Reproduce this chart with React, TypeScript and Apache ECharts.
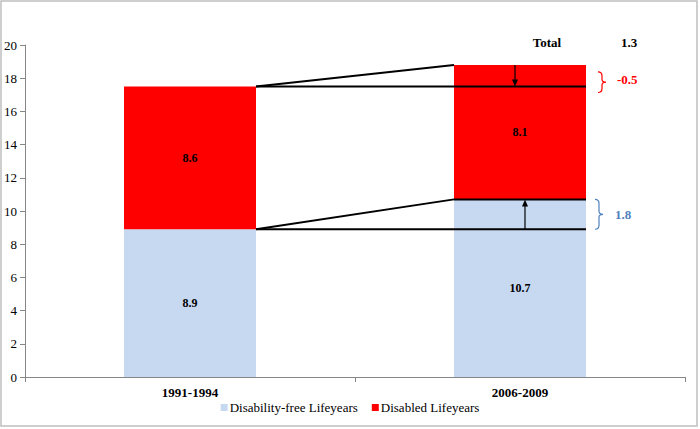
import React, { useEffect, useRef } from "react";
import * as echarts from "echarts";

const categories = ["1991-1994", "2006-2009"];
const disabilityFree = [8.9, 10.7];
const disabled = [8.6, 8.1];
const changeDisabled = "-0.5";
const changeFree = "1.8";
const totalChange = "1.3";
const yTicks = { min: 0, max: 20, interval: 2 };

const FONT = "Liberation Serif";
const BLUE = "#C6D9F1";
const RED = "#FF0000";

export default function App() {
  const ref = useRef<HTMLDivElement>(null);
  useEffect(() => {
    document.body.style.margin = "0";
    if (!ref.current) return;
    const chart = echarts.init(ref.current, undefined, { renderer: "svg" });
    const total1 = disabilityFree[0] + disabled[0];
    const total2 = disabilityFree[1] + disabled[1];

    const renderItem = (params: any, api: any) => {
      const x0 = api.coord([0, 0])[0];
      const x1 = api.coord([1, 0])[0];
      const catW = api.size([1, 0])[0];
      const bw = catW * 0.4;
      const r1 = x0 + bw / 2;
      const l2 = x1 - bw / 2;
      const r2 = x1 + bw / 2;
      const y = (v: number) => api.coord([0, v])[1];
      const ls = { stroke: "#000", lineWidth: 2 };
      const line = (a: number, b: number, c: number, d: number) => ({
        type: "line",
        shape: { x1: a, y1: b, x2: c, y2: d },
        style: ls,
      });
      const arrow = (x: number, yFrom: number, yTo: number) => {
        const dir = yTo > yFrom ? 1 : -1;
        return [
          {
            type: "line",
            shape: { x1: x, y1: yFrom, x2: x, y2: yTo - dir * 5 },
            style: { stroke: "#000", lineWidth: 1.2 },
          },
          {
            type: "polygon",
            shape: {
              points: [
                [x - 3, yTo - dir * 7],
                [x + 3, yTo - dir * 7],
                [x, yTo],
              ],
            },
            style: { fill: "#000" },
          },
        ];
      };
      const brace = (x: number, yTop: number, yBot: number, color: string) => {
        const mid = (yTop + yBot) / 2;
        const d = `M${x} ${yTop} Q${x + 4} ${yTop} ${x + 4} ${yTop + 4} L${x + 4} ${mid - 3} Q${x + 4} ${mid} ${x + 8} ${mid} Q${x + 4} ${mid} ${x + 4} ${mid + 3} L${x + 4} ${yBot - 4} Q${x + 4} ${yBot} ${x} ${yBot}`;
        return {
          type: "path",
          shape: { pathData: d },
          style: { stroke: color, lineWidth: 1.2, fill: "none" },
        };
      };
      const txt = (x: number, yy: number, s: string, color: string, size: number, align = "left") => ({
        type: "text",
        x,
        y: yy,
        style: {
          text: s,
          fill: color,
          fontFamily: FONT,
          fontSize: size,
          fontWeight: "bold",
          textAlign: align,
          textVerticalAlign: "middle",
        },
      });
      return {
        type: "group",
        children: [
          line(r1, y(total1), l2, y(total2)),
          line(r1, y(total1), r2, y(total1)),
          line(r1, y(disabilityFree[0]), l2, y(disabilityFree[1])),
          line(r1, y(disabilityFree[0]), r2, y(disabilityFree[0])),
          line(l2, y(disabilityFree[1]), r2, y(disabilityFree[1])),
          ...arrow(x1 - 5, y(total2), y(total1)),
          ...arrow(x1 + 5, y(disabilityFree[0]), y(disabilityFree[1])),
          brace(r2 + 12, y(total2) + 7, y(total1) + 6, RED),
          brace(r2 + 9, y(disabilityFree[1]), y(disabilityFree[0]), "#4F81BD"),
          txt(r2 + 31, (y(total2) + y(total1)) / 2 + 4, changeDisabled, RED, 13),
          txt(r2 + 29, (y(disabilityFree[1]) + y(disabilityFree[0])) / 2, changeFree, "#4F81BD", 13),
          txt(x1 + 27, y(yTicks.max) - 3, "Total", "#000", 13, "center"),
          txt(x1 + 109, y(yTicks.max) - 3, totalChange, "#000", 13, "center"),
        ],
      };
    };

    const labelStyle = {
      show: true,
      position: "inside",
      color: "#000",
      fontWeight: "bold",
      fontSize: 12,
      fontFamily: FONT,
      formatter: (p: any) => Number(p.value).toFixed(1),
    };

    chart.setOption({
      animation: false,
      textStyle: { fontFamily: FONT },
      graphic: [
        {
          type: "rect",
          shape: { x: 1, y: 1, width: 696, height: 425 },
          style: { fill: "none", stroke: "#BFBFBF", lineWidth: 1.5 },
          silent: true,
        },
      ],
      grid: { left: 25, right: 15, top: 45, bottom: 52, containLabel: false },
      legend: {
        data: ["Disability-free Lifeyears", "Disabled Lifeyears"],
        bottom: 10,
        left: "center",
        icon: "rect",
        itemWidth: 7,
        itemHeight: 7,
        itemGap: 14,
        textStyle: { fontFamily: FONT, fontSize: 13, color: "#000", padding: [0, 0, 0, -3] },
      },
      xAxis: {
        type: "category",
        data: categories,
        axisLine: { lineStyle: { color: "#868686", width: 1 } },
        axisTick: { show: true, lineStyle: { color: "#868686" }, length: 5 },
        axisLabel: { color: "#000", fontWeight: "bold", fontSize: 13, fontFamily: FONT, margin: 9 },
      },
      yAxis: {
        type: "value",
        min: yTicks.min,
        max: yTicks.max,
        interval: yTicks.interval,
        axisLine: { show: true, lineStyle: { color: "#868686", width: 1 } },
        axisTick: { show: true, lineStyle: { color: "#868686" }, length: 5 },
        splitLine: { show: false },
        axisLabel: { color: "#000", fontSize: 13, fontFamily: FONT, margin: 8 },
      },
      series: [
        {
          name: "Disability-free Lifeyears",
          type: "bar",
          stack: "a",
          barWidth: "40%",
          data: disabilityFree,
          itemStyle: { color: BLUE },
          label: labelStyle,
        },
        {
          name: "Disabled Lifeyears",
          type: "bar",
          stack: "a",
          barWidth: "40%",
          data: disabled,
          itemStyle: { color: RED },
          label: labelStyle,
        },
        {
          type: "custom",
          name: "annotations",
          data: [[0, 0]],
          renderItem,
          clip: false,
          z: 10,
          silent: true,
        },
      ],
    });
    return () => chart.dispose();
  }, []);
  return <div ref={ref} style={{ width: 700, height: 429 }} />;
}
